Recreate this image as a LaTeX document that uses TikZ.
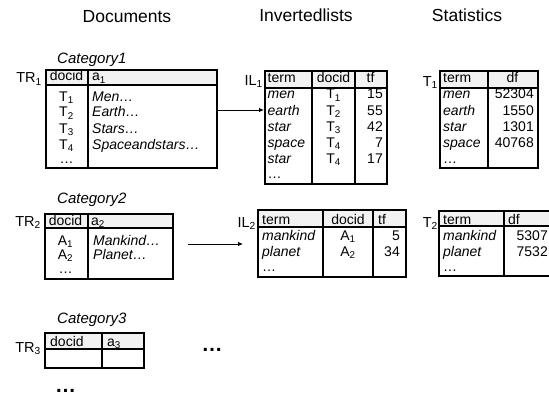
\documentclass[tikz,border=0pt]{standalone}
\usepackage{fontspec}
\setmainfont{Liberation Sans}
\usetikzlibrary{arrows.meta}
\definecolor{hdrgray}{HTML}{F2F2F2}
\begin{document}
\begin{tikzpicture}[x=1pt,y=-1pt,
  frame/.style={draw, line width=1.6pt, anchor=north west, inner sep=0pt},
  rule/.style={line width=1.1pt},
  hdr/.style={fill=hdrgray},
  tx/.style={font=\fontsize{14}{16}\selectfont, inner sep=0pt},
  itx/.style={font=\fontsize{14}{16}\selectfont\itshape, inner sep=0pt},
  head/.style={font=\fontsize{17.5}{20}\selectfont, inner sep=0pt, anchor=base},
  cat/.style={font=\fontsize{15}{18}\selectfont\itshape, inner sep=0pt, anchor=base west},
  lab/.style={font=\fontsize{14.5}{17}\selectfont, inner sep=0pt, anchor=base east},
  bigdots/.style={font=\fontsize{21}{24}\selectfont\bfseries, inner sep=0pt},
  arr/.style={line width=0.8pt, -{Latex[length=5pt,width=4.5pt]}}
]
\useasboundingbox (0,0) rectangle (549,396);

% headings
\node[head] (hdoc) at (127,22.7) {Documents};
\node[head] (hinv) at (306,21.7) {Invertedlists};
\node[head] (hsta) at (467,21.7) {Statistics};

% ================= TR1 =================
\node[cat] (cat1) at (57,63.5) {Category1};
\node[lab] (ltr1) at (42,83) {TR\textsubscript{1}};
\fill[hdr] (45,69) rectangle (216,85);
\draw[rule] (45,85) -- (216,85) (88,69) -- (88,167);
\node[frame, minimum width=171pt, minimum height=98pt] (tr1) at (45,69) {};
\node[tx, anchor=base] (tr1h1) at (66.5,81) {docid};
\node[tx, anchor=base west] (tr1h2) at (92,81) {a\textsubscript{1}};
\node[tx, anchor=base] (tr1a) at (66.5,101) {T\textsubscript{1}};
\node[tx, anchor=base] (tr1b) at (66.5,117) {T\textsubscript{2}};
\node[tx, anchor=base] (tr1c) at (66.5,133) {T\textsubscript{3}};
\node[tx, anchor=base] (tr1d) at (66.5,149) {T\textsubscript{4}};
\node[tx, anchor=base] (tr1e) at (66.5,163) {…};
\node[itx, anchor=base west] (tr1f) at (92,101) {Men…};
\node[itx, anchor=base west] (tr1g) at (92,117) {Earth…};
\node[itx, anchor=base west] (tr1h) at (92,133) {Stars…};
\node[itx, anchor=base west] (tr1i) at (92,149) {Spaceandstars…};

% ================= IL1 =================
\node[lab] (lil1) at (263,85) {IL\textsubscript{1}};
\fill[hdr] (264,70) rectangle (386,88);
\draw[rule] (264,88) -- (386,88) (312,70) -- (312,183) (355,70) -- (355,183);
\node[frame, minimum width=122pt, minimum height=113pt] (il1) at (264,70) {};
\node[tx, anchor=base west] (il1h1) at (267.5,83) {term};
\node[tx, anchor=base] (il1h2) at (333.5,83) {docid};
\node[tx, anchor=base] (il1h3) at (370.5,83) {tf};
\node[itx, anchor=base west] (il1r1) at (267.5,99) {men};
\node[itx, anchor=base west] (il1r2) at (267.5,115) {earth};
\node[itx, anchor=base west] (il1r3) at (267.5,131) {star};
\node[itx, anchor=base west] (il1r4) at (267.5,147) {space};
\node[itx, anchor=base west] (il1r5) at (267.5,163) {star};
\node[tx, anchor=base west] (il1r6) at (267.5,178) {…};
\node[tx, anchor=base] (il1d1) at (333.5,99) {T\textsubscript{1}};
\node[tx, anchor=base] (il1d2) at (333.5,115) {T\textsubscript{2}};
\node[tx, anchor=base] (il1d3) at (333.5,131) {T\textsubscript{3}};
\node[tx, anchor=base] (il1d4) at (333.5,147) {T\textsubscript{4}};
\node[tx, anchor=base] (il1d5) at (333.5,163) {T\textsubscript{4}};
\node[tx, anchor=base east] (il1n1) at (383,99) {15};
\node[tx, anchor=base east] (il1n2) at (383,115) {55};
\node[tx, anchor=base east] (il1n3) at (383,131) {42};
\node[tx, anchor=base east] (il1n4) at (383,147) {7};
\node[tx, anchor=base east] (il1n5) at (383,163) {17};

\draw[arr] (tr1.east |- il1r2) -- (il1.west |- il1r2);

% ================= T1 =================
\node[lab] (lt1) at (438,86.5) {T\textsubscript{1}};
\fill[hdr] (439,70) rectangle (537,88);
\draw[rule] (439,88) -- (537,88) (488,70) -- (488,167);
\node[frame, minimum width=98pt, minimum height=97pt] (t1) at (439,70) {};
\node[tx, anchor=base west] (t1h1) at (443,83) {term};
\node[tx, anchor=base] (t1h2) at (512.5,83) {df};
\node[itx, anchor=base west] (t1r1) at (443,99) {men};
\node[itx, anchor=base west] (t1r2) at (443,115) {earth};
\node[itx, anchor=base west] (t1r3) at (443,131) {star};
\node[itx, anchor=base west] (t1r4) at (443,147) {space};
\node[tx, anchor=base west] (t1r5) at (443,163) {…};
\node[tx, anchor=base east] (t1n1) at (534,99) {52304};
\node[tx, anchor=base east] (t1n2) at (534,115) {1550};
\node[tx, anchor=base east] (t1n3) at (534,131) {1301};
\node[tx, anchor=base east] (t1n4) at (534,147) {40768};

% ================= TR2 =================
\node[cat] (cat2) at (57,203.3) {Category2};
\node[lab] (ltr2) at (41,226) {TR\textsubscript{2}};
\fill[hdr] (44,213) rectangle (172,228);
\draw[rule] (44,228) -- (172,228) (88,213) -- (88,278);
\node[frame, minimum width=128pt, minimum height=65pt] (tr2) at (44,213) {};
\node[tx, anchor=base] (tr2h1) at (65.5,225) {docid};
\node[tx, anchor=base west] (tr2h2) at (91,225) {a\textsubscript{2}};
\node[tx, anchor=base] (tr2a) at (65.5,245) {A\textsubscript{1}};
\node[tx, anchor=base] (tr2b) at (65.5,259) {A\textsubscript{2}};
\node[tx, anchor=base] (tr2c) at (65.5,273) {…};
\node[itx, anchor=base west] (tr2d) at (93,245) {Mankind…};
\node[itx, anchor=base west] (tr2e) at (93,259) {Planet…};

\coordinate (a2s) at (188,244);
\coordinate (a2e) at (243,244);
\draw[arr] (a2s) -- (a2e);

% ================= IL2 =================
\node[lab] (lil2) at (256,227) {IL\textsubscript{2}};
\fill[hdr] (257,209) rectangle (405,227);
\draw[rule] (257,227) -- (405,227) (323,209) -- (323,276) (373,209) -- (373,276);
\node[frame, minimum width=148pt, minimum height=67pt] (il2) at (257,209) {};
\node[tx, anchor=base west] (il2h1) at (262,224) {term};
\node[tx, anchor=base] (il2h2) at (348,224) {docid};
\node[tx, anchor=base west] (il2h3) at (378,224) {tf};
\node[itx, anchor=base west] (il2r1) at (262,240) {mankind};
\node[itx, anchor=base west] (il2r2) at (262,256) {planet};
\node[tx, anchor=base west] (il2r3) at (262,271) {…};
\node[tx, anchor=base] (il2d1) at (348,240) {A\textsubscript{1}};
\node[tx, anchor=base] (il2d2) at (348,256) {A\textsubscript{2}};
\node[tx, anchor=base east] (il2n1) at (400,240) {5};
\node[tx, anchor=base east] (il2n2) at (400,256) {34};

% ================= T2 =================
\node[lab] (lt2) at (438,227) {T\textsubscript{2}};
\fill[hdr] (439,211) rectangle (549,226);
\draw[rule] (439,226) -- (549,226) (504,211) -- (504,276);
\draw[line width=1.6pt] (549,211) -| (439,276) -- (549,276);
\node[tx, anchor=base west] (t2h1) at (443,224) {term};
\node[tx, anchor=base west] (t2h2) at (508,224) {df};
\node[itx, anchor=base west] (t2r1) at (443,240) {mankind};
\node[itx, anchor=base west] (t2r2) at (443,256) {planet};
\node[tx, anchor=base west] (t2r3) at (443,271) {…};
\node[tx, anchor=base east] (t2n1) at (548,240) {5307};
\node[tx, anchor=base east] (t2n2) at (548,256) {7532};

% ================= TR3 =================
\node[cat] (cat3) at (57,323.3) {Category3};
\node[lab] (ltr3) at (41,352) {TR\textsubscript{3}};
\fill[hdr] (44,332) rectangle (143,349);
\draw[rule] (44,349) -- (143,349) (102,332) -- (102,367);
\node[frame, minimum width=99pt, minimum height=35pt] (tr3) at (44,332) {};
\node[tx, anchor=base west] (tr3h1) at (50,346) {docid};
\node[tx, anchor=base west] (tr3h2) at (107,346) {a\textsubscript{3}};

% big dots
\node[bigdots] (dots1) at (212,350) {…};
\node[bigdots] (dots2) at (65.5,391) {…};
\end{tikzpicture}
\end{document}
